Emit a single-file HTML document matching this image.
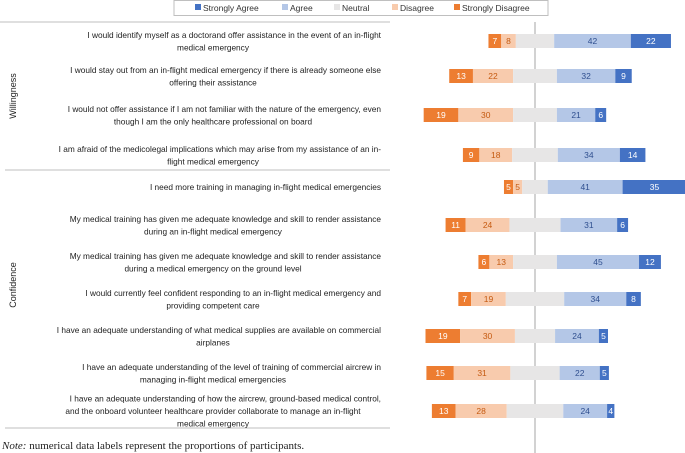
<!DOCTYPE html>
<html><head><meta charset="utf-8"><style>
body{margin:0;background:#fff;}
svg{display:block;font-family:"Liberation Sans",sans-serif;}
</style></head><body>
<svg id="chart" width="685" height="453" viewBox="0 0 685 453" xmlns="http://www.w3.org/2000/svg">
<g>
<rect x="174" y="0.5" width="374" height="15" fill="#fff" stroke="#bfbfbf"/>
<rect x="195" y="4" width="6" height="6" fill="#4472C4"/>
<text x="203" y="11" font-size="8.5" fill="#333">Strongly Agree</text>
<rect x="282" y="4" width="6" height="6" fill="#B4C7E7"/>
<text x="290" y="11" font-size="8.5" fill="#333">Agree</text>
<rect x="334" y="4" width="6" height="6" fill="#E7E6E6"/>
<text x="342" y="11" font-size="8.5" fill="#333">Neutral</text>
<rect x="392" y="4" width="6" height="6" fill="#F8CBAD"/>
<text x="400" y="11" font-size="8.5" fill="#333">Disagree</text>
<rect x="454" y="4" width="6" height="6" fill="#ED7D31"/>
<text x="462" y="11" font-size="8.5" fill="#333">Strongly Disagree</text>
</g>
<line x1="0" y1="22" x2="390" y2="22" stroke="#bfbfbf"/>
<line x1="5" y1="170" x2="390" y2="170" stroke="#bfbfbf"/>
<line x1="5" y1="428" x2="390" y2="428" stroke="#bfbfbf"/>
<line x1="535" y1="22" x2="535" y2="453" stroke="#a6a6a6"/>
<text transform="translate(16,96) rotate(-90)" text-anchor="middle" font-size="9" fill="#222">Willingness</text>
<text transform="translate(16,285) rotate(-90)" text-anchor="middle" font-size="9" fill="#222">Confidence</text>
<g id="rows"></g>
<text x="2" y="449" font-family="Liberation Serif, serif" font-size="11" fill="#222"><tspan font-style="italic">Note:</tspan> numerical data labels represent the proportions of participants.</text>
</svg>
<script>
const strongDisagree=[7,13,19,9,5,11,6,7,19,15,13];
const disagree=[8,22,30,18,5,24,13,19,30,31,28];
const agree=[42,32,21,34,41,31,45,34,24,22,24];
const strongAgree=[22,9,6,14,35,6,12,8,5,5,4];
const questions=[
["I would identify myself as a doctorand offer assistance in the event of an in-flight","medical emergency"],
["I would stay out from an in-flight medical emergency if there is already someone else","offering their assistance"],
["I would not offer assistance if I am not familiar with the nature of the emergency, even","though I am the only healthcare professional on board"],
["I am afraid of the medicolegal implications which may arise from my assistance of an in-","flight medical emergency"],
["I need more training in managing in-flight medical emergencies"],
["My medical training has given me adequate knowledge and skill to render assistance","during an in-flight medical emergency"],
["My medical training has given me adequate knowledge and skill to render assistance","during a medical emergency on the ground level"],
["I would currently feel confident responding to an in-flight medical emergency and","providing competent care"],
["I have an adequate understanding of what medical supplies are available on commercial","airplanes"],
["I have an adequate understanding of the level of training of commercial aircrew in","managing in-flight medical emergencies"],
["I have an adequate understanding of how the aircrew, ground-based medical control,","and the onboard volunteer healthcare provider collaborate to manage an in-flight","medical emergency"]
];
const NS="http://www.w3.org/2000/svg";
const g=document.getElementById('rows');
const cx=535, unit=1.825, barH=14;
const rowY=[41,76,115,155,187,225,262,299,336,373,411];
const xs=v=>cx+v*unit;
function rect(x,y,w,fill,name){
 const r=document.createElementNS(NS,'rect');
 r.setAttribute('x',x);r.setAttribute('y',y);r.setAttribute('width',Math.max(0,w));r.setAttribute('height',barH);r.setAttribute('fill',fill);
 
 
 g.appendChild(r);
}
function label(x,y,t,fill,name){
 const e=document.createElementNS(NS,'text');
 e.setAttribute('x',x);e.setAttribute('y',y);e.setAttribute('text-anchor','middle');e.setAttribute('font-size','8.5');e.setAttribute('fill',fill);
 e.textContent=t;
 
 
 g.appendChild(e);
}
questions.forEach((q,i)=>{
 const c=rowY[i], top=c-barH/2;
 const sd=strongDisagree[i], d=disagree[i], a=agree[i], sa=strongAgree[i];
 const n=100-sd-d-a-sa;
 const nL=-n/2, dL=nL-d, sdL=dL-sd, aR=n/2+a, saR=aR+sa;
 rect(xs(sdL),top,sd*unit,'#ED7D31','bar-strongly-disagree-'+(i+1));
 rect(xs(dL),top,d*unit,'#F8CBAD','bar-disagree-'+(i+1));
 rect(xs(nL),top,n*unit,'#E7E6E6','bar-neutral-'+(i+1));
 rect(xs(n/2),top,a*unit,'#B4C7E7','bar-agree-'+(i+1));
 rect(xs(aR),top,sa*unit,'#4472C4','bar-strongly-agree-'+(i+1));
 label(xs(sdL+sd/2),c+3,sd,'#fff','value-strongly-disagree-'+(i+1));
 label(xs(dL+d/2),c+3,d,'#C55A11','value-disagree-'+(i+1));
 label(xs(n/2+a/2),c+3,a,'#2F4F8F','value-agree-'+(i+1));
 label(xs(aR+sa/2),c+3,sa,'#fff','value-strongly-agree-'+(i+1));
 const nl=q.length;
 const first=c+3-(nl-1)*6.25;
 q.forEach((line,j)=>{
  const t=document.createElementNS(NS,'text');
  t.setAttribute('y',first+j*12.5);
  if(j===0){t.setAttribute('x',381);t.setAttribute('text-anchor','end');}
  else{t.setAttribute('x',213);t.setAttribute('text-anchor','middle');}
  t.setAttribute('font-size','8.3');t.setAttribute('fill','#222');
  t.textContent=line;
  
  
  g.appendChild(t);
 });
});
</script>
</body></html>
